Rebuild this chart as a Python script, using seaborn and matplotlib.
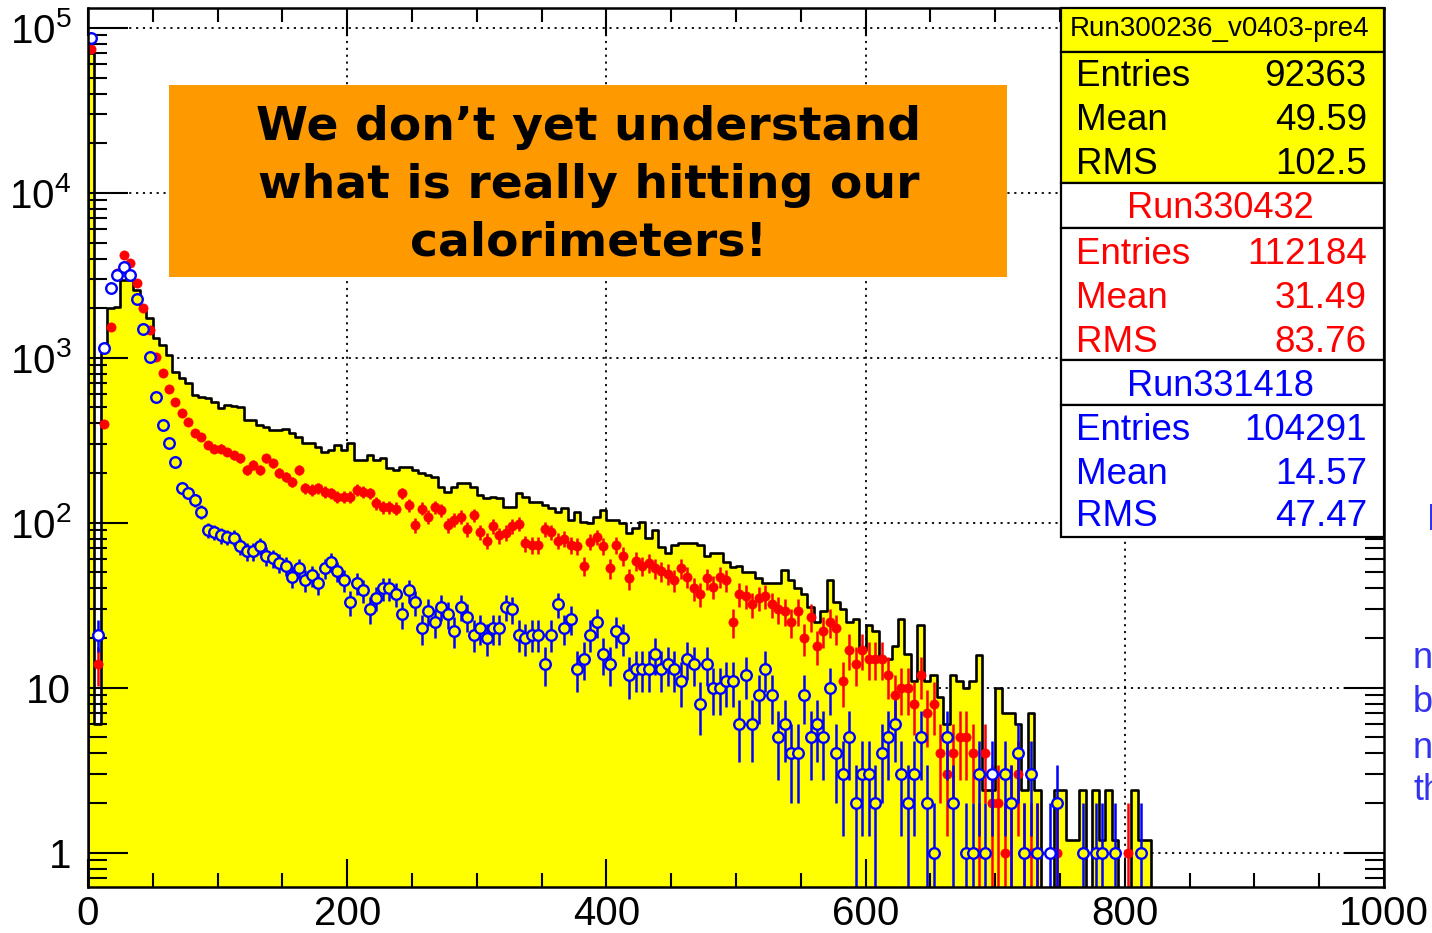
import numpy as np
import pandas as pd
import matplotlib
matplotlib.use("Agg")
import matplotlib.pyplot as plt
from matplotlib.patches import Rectangle
from matplotlib.ticker import FixedLocator, FixedFormatter, LogLocator, NullFormatter, MultipleLocator
import seaborn as sns

# ---------------- data (bin width 5, starting at 0) ----------------
bin_width = 5
n_bins = 200
yellow_counts = [
    70000, 6, 1100, 2000, 2030, 2950, 2950, 2570, 2000, 1740,
    1320, 1200, 1040, 818, 753, 703, 594, 580, 570, 539,
    496, 517, 510, 505, 420, 420, 391, 380, 365, 365,
    368, 350, 330, 304, 304, 290, 268, 276, 296, 276,
    304, 240, 240, 257, 240, 247, 215, 209, 218, 218,
    209, 200, 195, 189, 165, 154, 165, 174, 174, 165,
    147, 141, 143, 141, 124, 124, 151, 143, 134, 134,
    128, 123, 116, 123, 104, 116, 101, 100, 108, 119,
    104, 104, 100, 87, 93, 101, 81, 90, 71, 66,
    73, 75, 75, 75, 73, 63, 66, 66, 58, 54,
    55, 50, 50, 46, 43, 43, 43, 52, 45, 40,
    37, 31, 25, 29, 45, 33, 30, 25, 26, 17,
    24, 22, 15, 15, 18, 26, 16, 11, 24, 11,
    12, 8.8, 6, 12, 11, 10, 11, 15.8, 2.4, 2.4,
    10, 7, 7, 6, 2.4, 7, 2.4, 0, 0, 2.4,
    2.4, 1.2, 1.2, 2.4, 0, 2.4, 1.2, 2.4, 1.2, 0,
    0, 2.4, 1.2, 1.2]

red_counts = [
    75000, 14, 396, 1535, 3260, 4190, 3750, 2840, 2000, 1473,
    1014, 804, 643, 541, 464, 409, 351, 332, 296, 282,
    282, 269, 257, 246, 209, 224, 209, 246, 229, 200,
    190, 177, 209, 162, 159, 162, 154, 151, 144, 144,
    144, 159, 154, 151, 131, 125, 125, 122, 151, 128,
    97, 122, 109, 125, 119, 97, 104, 109, 92, 111,
    88, 78, 95, 84, 87, 95, 99, 75, 73, 73,
    92, 88, 78, 80, 73, 72, 55, 77, 82, 72,
    53, 73, 63, 46, 59, 55, 57, 53, 51, 49,
    45, 53, 47, 40, 37, 46, 41, 47, 45, 25,
    37, 36, 32, 35, 36, 32, 30, 29, 25, 29,
    20, 27, 18, 22, 25, 23, 11, 17, 14, 17,
    15, 15, 15, 12, 9, 10, 10, 8, 12, 7,
    8, 4, 3, 4, 5, 5, 4, 1, 4, 2,
    2, 1, 2, 3, 1, 1, 1, 0, 0, 1,
    0, 0, 0, 0, 0, 0, 0, 0, 0, 0,
    1]

blue_counts = [
    86500, 21, 1150, 2655, 3170, 3550, 3170, 2270, 1493, 1010,
    580, 391, 303, 234, 162, 151, 137, 117, 90, 88,
    84, 82, 81, 72, 67, 67, 72, 63, 61, 57,
    55, 47, 53, 45, 48, 43, 53, 58, 51, 45,
    33, 43, 39, 30, 35, 40, 40, 37, 28, 39,
    33, 23, 29, 25, 31, 28, 22, 31, 27, 21,
    23, 20, 23, 23, 31, 30, 21, 20, 21, 21,
    14, 21, 32, 23, 26, 13, 15, 21, 25, 16,
    14, 22, 20, 12, 13, 13, 13, 16, 13, 14,
    13, 11, 15, 14, 8, 14, 10, 10, 11, 11,
    6, 12, 6, 9, 13, 9, 5, 6, 4, 4,
    9, 5, 6, 5, 10, 4, 3, 5, 2, 3,
    3, 2, 4, 5, 6, 3, 2, 3, 5, 2,
    1, 0, 5, 2, 0, 1, 1, 3, 1, 3,
    0, 3, 2, 4, 1, 3, 1, 0, 1, 2,
    0, 0, 0, 1, 0, 1, 1, 0, 1, 0,
    0, 0, 1]

x_tick_values = [0, 200, 400, 600, 800, 1000]
x_tick_labels = ["0", "200", "400", "600", "800", "1000"]
y_tick_values = [1, 10, 100, 1000, 10000, 100000]
y_tick_labels = ["1", "10", r"$\mathregular{10^{2}}$", r"$\mathregular{10^{3}}$",
                 r"$\mathregular{10^{4}}$", r"$\mathregular{10^{5}}$"]

stat_titles = ["Run300236_v0403-pre4", "Run330432", "Run331418"]
stat_names = ["Entries", "Mean", "RMS"]
stat_values = [["92363", "49.59", "102.5"],
               ["112184", "31.49", "83.76"],
               ["104291", "14.57", "47.47"]]
overlay_lines = ["We don\u2019t yet understand", "what is really hitting our", "calorimeters!"]
edge_fragments = ["E", "n", "b", "n", "th"]

# ---------------- helpers ----------------
def pad(lst):
    a = np.array(lst, dtype=float)
    return np.pad(a, (0, n_bins - len(a)))

edges = np.arange(0, n_bins * bin_width + bin_width, bin_width)
centers = edges[:-1] + bin_width / 2
yellow = pad(yellow_counts)
red = pad(red_counts)
blue = pad(blue_counts)

W, H = 1432, 933
def fx(px): return px / W
def fy(py): return 1 - py / H

plt.rcParams["font.family"] = ["Liberation Sans", "DejaVu Sans"]
plt.rcParams["mathtext.fontset"] = "custom"
plt.rcParams["mathtext.rm"] = "Liberation Sans"
plt.rcParams["mathtext.it"] = "Liberation Sans"
plt.rcParams["mathtext.bf"] = "Liberation Sans:bold"

fig = plt.figure(figsize=(W / 100, H / 100), dpi=100)
fig.patch.set_facecolor("white")
ax = fig.add_axes([fx(88), fy(887), fx(1384) - fx(88), fy(8) - fy(887)])
ax.set_yscale("log")
ax.set_xlim(0, 1000)
ax.set_ylim(0.62, 1.32e5)

# manual dotted grid (below the histogram, ticks stay on top)
for xv in x_tick_values[1:-1]:
    ax.axvline(xv, color="black", lw=1.3, ls=(0, (1.2, 2.6)), zorder=0.5)
for yv in y_tick_values:
    ax.axhline(yv, color="black", lw=1.3, ls=(0, (1.2, 2.6)), zorder=0.5)

# yellow reference histogram
df_y = pd.DataFrame({"x": centers, "w": yellow})
sns.histplot(data=df_y, x="x", weights="w", binwidth=bin_width, binrange=(0, n_bins * bin_width),
             element="step", fill=True, color="#FFFF00", alpha=1.0, edgecolor="black",
             linewidth=1.9, ax=ax, zorder=1)

# red points
m = red > 0
r_low = np.maximum(red[m] - np.sqrt(red[m]), 1e-3)
ax.errorbar(centers[m], red[m], yerr=[red[m] - r_low, np.sqrt(red[m])], xerr=bin_width / 2,
            fmt="none", ecolor="#FF0000", elinewidth=1.8, capsize=0, zorder=3)
df_r = pd.DataFrame({"x": centers[m], "y": red[m]})
sns.scatterplot(data=df_r, x="x", y="y", color="#FF0000", marker="o", s=44,
                edgecolor="#FF0000", linewidth=0.5, ax=ax, zorder=4)

# blue points (open circles)
mb = blue > 0
b_low = np.maximum(blue[mb] - np.sqrt(blue[mb]), 1e-3)
ax.errorbar(centers[mb], blue[mb], yerr=[blue[mb] - b_low, np.sqrt(blue[mb])], fmt="none",
            ecolor="#0000FF", elinewidth=1.8, capsize=0, zorder=5)
inside = blue[mb] <= yellow[mb]
df_b = pd.DataFrame({"x": centers[mb], "y": blue[mb], "inside": inside})
sns.scatterplot(data=df_b[df_b.inside], x="x", y="y", marker="o", s=58,
                color="#FFFF00", edgecolor="#0000FF", linewidth=1.7, ax=ax, zorder=6)
sns.scatterplot(data=df_b[~df_b.inside], x="x", y="y", marker="o", s=58,
                color="white", edgecolor="#0000FF", linewidth=1.7, ax=ax, zorder=6)

ax.set_xlim(0, 1000)
ax.set_ylim(0.62, 1.32e5)
ax.set_xlabel("")
ax.set_ylabel("")

# ticks
ax.xaxis.set_major_locator(FixedLocator(x_tick_values))
ax.xaxis.set_major_formatter(FixedFormatter(x_tick_labels))
ax.xaxis.set_minor_locator(MultipleLocator(50))
ax.yaxis.set_major_locator(FixedLocator(y_tick_values))
ax.yaxis.set_major_formatter(FixedFormatter(y_tick_labels))
ax.yaxis.set_minor_locator(LogLocator(base=10, subs=np.arange(2, 10), numticks=20))
ax.yaxis.set_minor_formatter(NullFormatter())
ax.tick_params(axis="both", which="both", direction="in", top=True, right=True,
               width=1.5, color="black", labelsize=29, labelcolor="black")
ax.tick_params(axis="y", which="major", length=29, pad=12)
ax.tick_params(axis="y", which="minor", length=14)
ax.tick_params(axis="x", which="major", length=20, pad=6)
ax.tick_params(axis="x", which="minor", length=10)
for s in ax.spines.values():
    s.set_linewidth(1.8)
    s.set_color("black")
    s.set_zorder(7)

# ---------------- stats box ----------------
box_left, box_right = 1061, 1384
sections = [(8, 52, "#FFFF00"), (52, 183, "#FFFF00"), (183, 228, "white"),
            (228, 360, "white"), (360, 405, "white"), (405, 537, "white")]
for top, bot, col in sections:
    fig.patches.append(Rectangle((fx(box_left), fy(bot)), fx(box_right) - fx(box_left),
                                 fy(top) - fy(bot), transform=fig.transFigure,
                                 facecolor=col, edgecolor="black", linewidth=1.6, zorder=10))
title_y = [29, 209, 386]
title_size = [20, 26, 26]
colors = ["black", "#FF0000", "#0000FF"]
row_y = [[77, 121, 165], [254, 298, 342], [431, 474, 517]]
for k in range(3):
    fig.text(fx(1220), fy(title_y[k]), stat_titles[k], ha="center", va="center",
             fontsize=title_size[k], color=colors[k], zorder=11)
    for j in range(3):
        fig.text(fx(1076), fy(row_y[k][j]), stat_names[j], ha="left", va="center",
                 fontsize=26.5, color=colors[k], zorder=11)
        fig.text(fx(1367), fy(row_y[k][j]), stat_values[k][j], ha="right", va="center",
                 fontsize=26.5, color=colors[k], zorder=11)

# ---------------- orange overlay box ----------------
fig.patches.append(Rectangle((fx(169), fy(277)), fx(1007) - fx(169), fy(85) - fy(277),
                             transform=fig.transFigure, facecolor="#FF9900",
                             edgecolor="none", zorder=10))
for line, yy in zip(overlay_lines, [128, 186, 243]):
    fig.text(fx(589), fy(yy), line, ha="center", va="center", fontsize=34,
             fontweight="bold", family="DejaVu Sans", color="black", zorder=11)

# ---------------- clipped slide text at right edge ----------------
for frag, (xx, yy) in zip(edge_fragments, [(1427, 521), (1413, 658), (1413, 703), (1413, 748), (1413, 790)]):
    fig.text(fx(xx), fy(yy), frag, ha="left", va="center", fontsize=26, color="#3333EE")

fig.savefig("out.png", dpi=100)
